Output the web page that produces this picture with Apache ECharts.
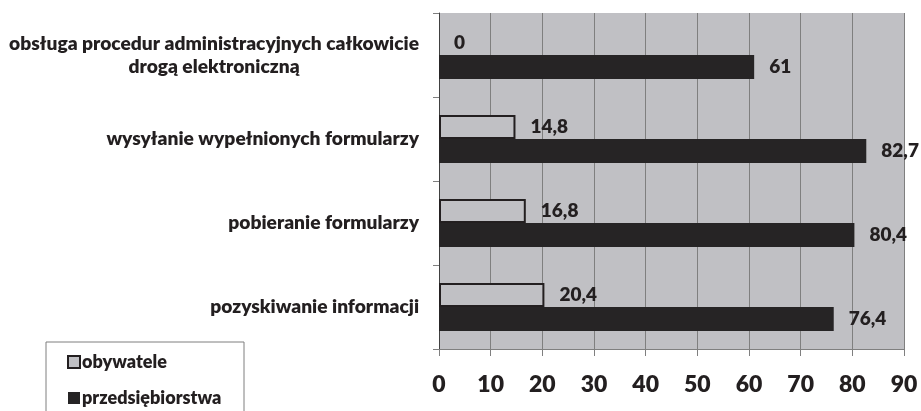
<!DOCTYPE html>
<html><head><meta charset="utf-8">
<script src="https://cdn.jsdelivr.net/npm/echarts@6/dist/echarts.min.js"></script>
<style>html,body{margin:0;padding:0;background:#fff}#c{width:921px;height:411px}</style>
</head><body><div id="c"></div>
<script>
const categories = [
  'obsługa procedur administracyjnych całkowicie\ndrogą elektroniczną',
  'wysyłanie wypełnionych formularzy',
  'pobieranie formularzy',
  'pozyskiwanie informacji'
];
const seriesNames = ['obywatele', 'przedsiębiorstwa'];
const obywatele = [0, 14.8, 16.8, 20.4];
const przedsiebiorstwa = [61, 82.7, 80.4, 76.4];
const xTicks = [0, 10, 20, 30, 40, 50, 60, 70, 80, 90];

const FONT = 'Lato';
const TXT = '#231f20';
const BG = '#c0c0c4';
const W = 800;
const chart = echarts.init(document.getElementById('c'));
const fmt = p => String(p.value).replace('.', ',');
const lbl = {show: true, position: 'right', distance: 15, formatter: fmt,
  fontFamily: FONT, fontWeight: W, fontSize: 19, color: TXT};
const obyData = obywatele.map(v => v === 0 ? {value: v, itemStyle: {borderWidth: 0, color: 'rgba(0,0,0,0)'}} : v);
chart.setOption({
  animation: false,
  textStyle: {fontFamily: FONT},
  grid: {left: 439, right: 17, top: 13, bottom: 62, show: true,
    backgroundColor: BG, borderWidth: 0},
  legend: {
    orient: 'vertical', left: 67, top: 353, itemGap: 18,
    itemWidth: 12, itemHeight: 12, padding: 0, icon: 'rect',
    textStyle: {fontFamily: FONT, fontWeight: W, fontSize: 18, color: TXT, padding: [0, 0, 0, -3]},
    data: seriesNames
  },
  graphic: [{type: 'rect', shape: {x: 46, y: 342, width: 198, height: 90},
    style: {fill: 'none', stroke: '#7f7f7f', lineWidth: 1}}],
  xAxis: {
    type: 'value', min: xTicks[0], max: xTicks[xTicks.length - 1], interval: 10,
    axisLine: {show: true, lineStyle: {color: '#7f7f7f', width: 1}},
    axisTick: {show: true, length: 7, lineStyle: {color: '#7f7f7f'}},
    splitLine: {show: true, lineStyle: {color: '#7f7f7f', width: 1}},
    axisLabel: {fontFamily: FONT, fontWeight: W, fontSize: 23, color: TXT, margin: 24}
  },
  yAxis: {
    type: 'category', inverse: true, data: categories,
    axisLine: {show: true, lineStyle: {color: '#404040', width: 1}},
    axisTick: {show: true, length: 6, lineStyle: {color: '#7f7f7f'}},
    axisLabel: {
      margin: 20,
      formatter: v => v.split('\n').map(s => '{a|' + s + '}').join('\n'),
      rich: {a: {fontFamily: FONT, fontWeight: W, fontSize: 19.2, color: TXT,
        align: 'center', lineHeight: 23}}
    }
  },
  series: [
    {name: seriesNames[0], type: 'bar', data: obyData, barWidth: 24, barGap: '0%',
      itemStyle: {color: BG, borderColor: TXT, borderWidth: 2}, label: lbl},
    {name: seriesNames[1], type: 'bar', data: przedsiebiorstwa, barWidth: 24, barGap: '0%',
      itemStyle: {color: '#262425'}, label: lbl}
  ]
});
</script></body></html>
